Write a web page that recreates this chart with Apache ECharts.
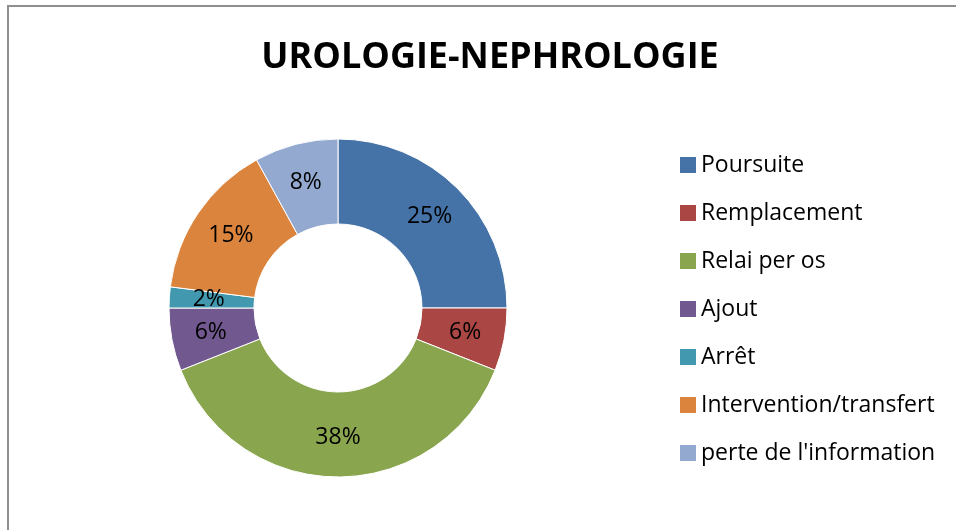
<!DOCTYPE html>
<html>
<head>
<meta charset="utf-8">
<script src="https://cdn.jsdelivr.net/npm/echarts@6/dist/echarts.min.js"></script>
<style>
    html, body { margin: 0; padding: 0; background: #fff; overflow: hidden; }
    #frame { position: absolute; left: 7px; top: 5px; width: 962px; height: 540px; border: 2px solid #8f8f8f; }
    #chart { width: 962px; height: 540px; }
</style>
</head>
<body>
<div id="frame"><div id="chart"></div></div>
<script>
var categories = ['Poursuite', 'Remplacement', 'Relai per os', 'Ajout', 'Arrêt', 'Intervention/transfert', "perte de l'information"];
var values = [25, 6, 38, 6, 2, 15, 8];
var colors = ['#4572A7', '#AA4643', '#89A54E', '#71588F', '#4198AF', '#DB843D', '#93A9CF'];

var chart = echarts.init(document.getElementById('chart'));

var data = [];
for (var i = 0; i < categories.length; i++) {
    data.push({ name: categories[i], value: values[i], itemStyle: { color: colors[i] } });
}

chart.setOption({
    animation: false,
    title: {
        text: 'UROLOGIE-NEPHROLOGIE',
        left: 'center',
        top: 24,
        textStyle: { fontFamily: 'Open Sans', fontWeight: 'bold', fontSize: 36, lineHeight: 44, color: '#000' }
    },
    legend: {
        orient: 'vertical',
        left: 666,
        top: 140,
        itemWidth: 16,
        itemHeight: 16,
        itemGap: 22,
        icon: 'rect',
        itemStyle: { borderWidth: 0 },
        textStyle: { fontFamily: 'Open Sans', fontSize: 23, lineHeight: 26, color: '#000' },
        data: categories
    },
    series: [{
        type: 'pie',
        center: [329, 301],
        radius: [84, 169],
        startAngle: 90,
        clockwise: true,
        avoidLabelOverlap: false,
        itemStyle: { borderColor: '#fff', borderWidth: 1 },
        label: {
            show: true,
            position: 'inside',
            formatter: '{c}%',
            fontFamily: 'Open Sans',
            fontSize: 23,
            color: '#000'
        },
        labelLine: { show: false },
        emphasis: { disabled: true },
        data: data
    }]
});
</script>
</body>
</html>
